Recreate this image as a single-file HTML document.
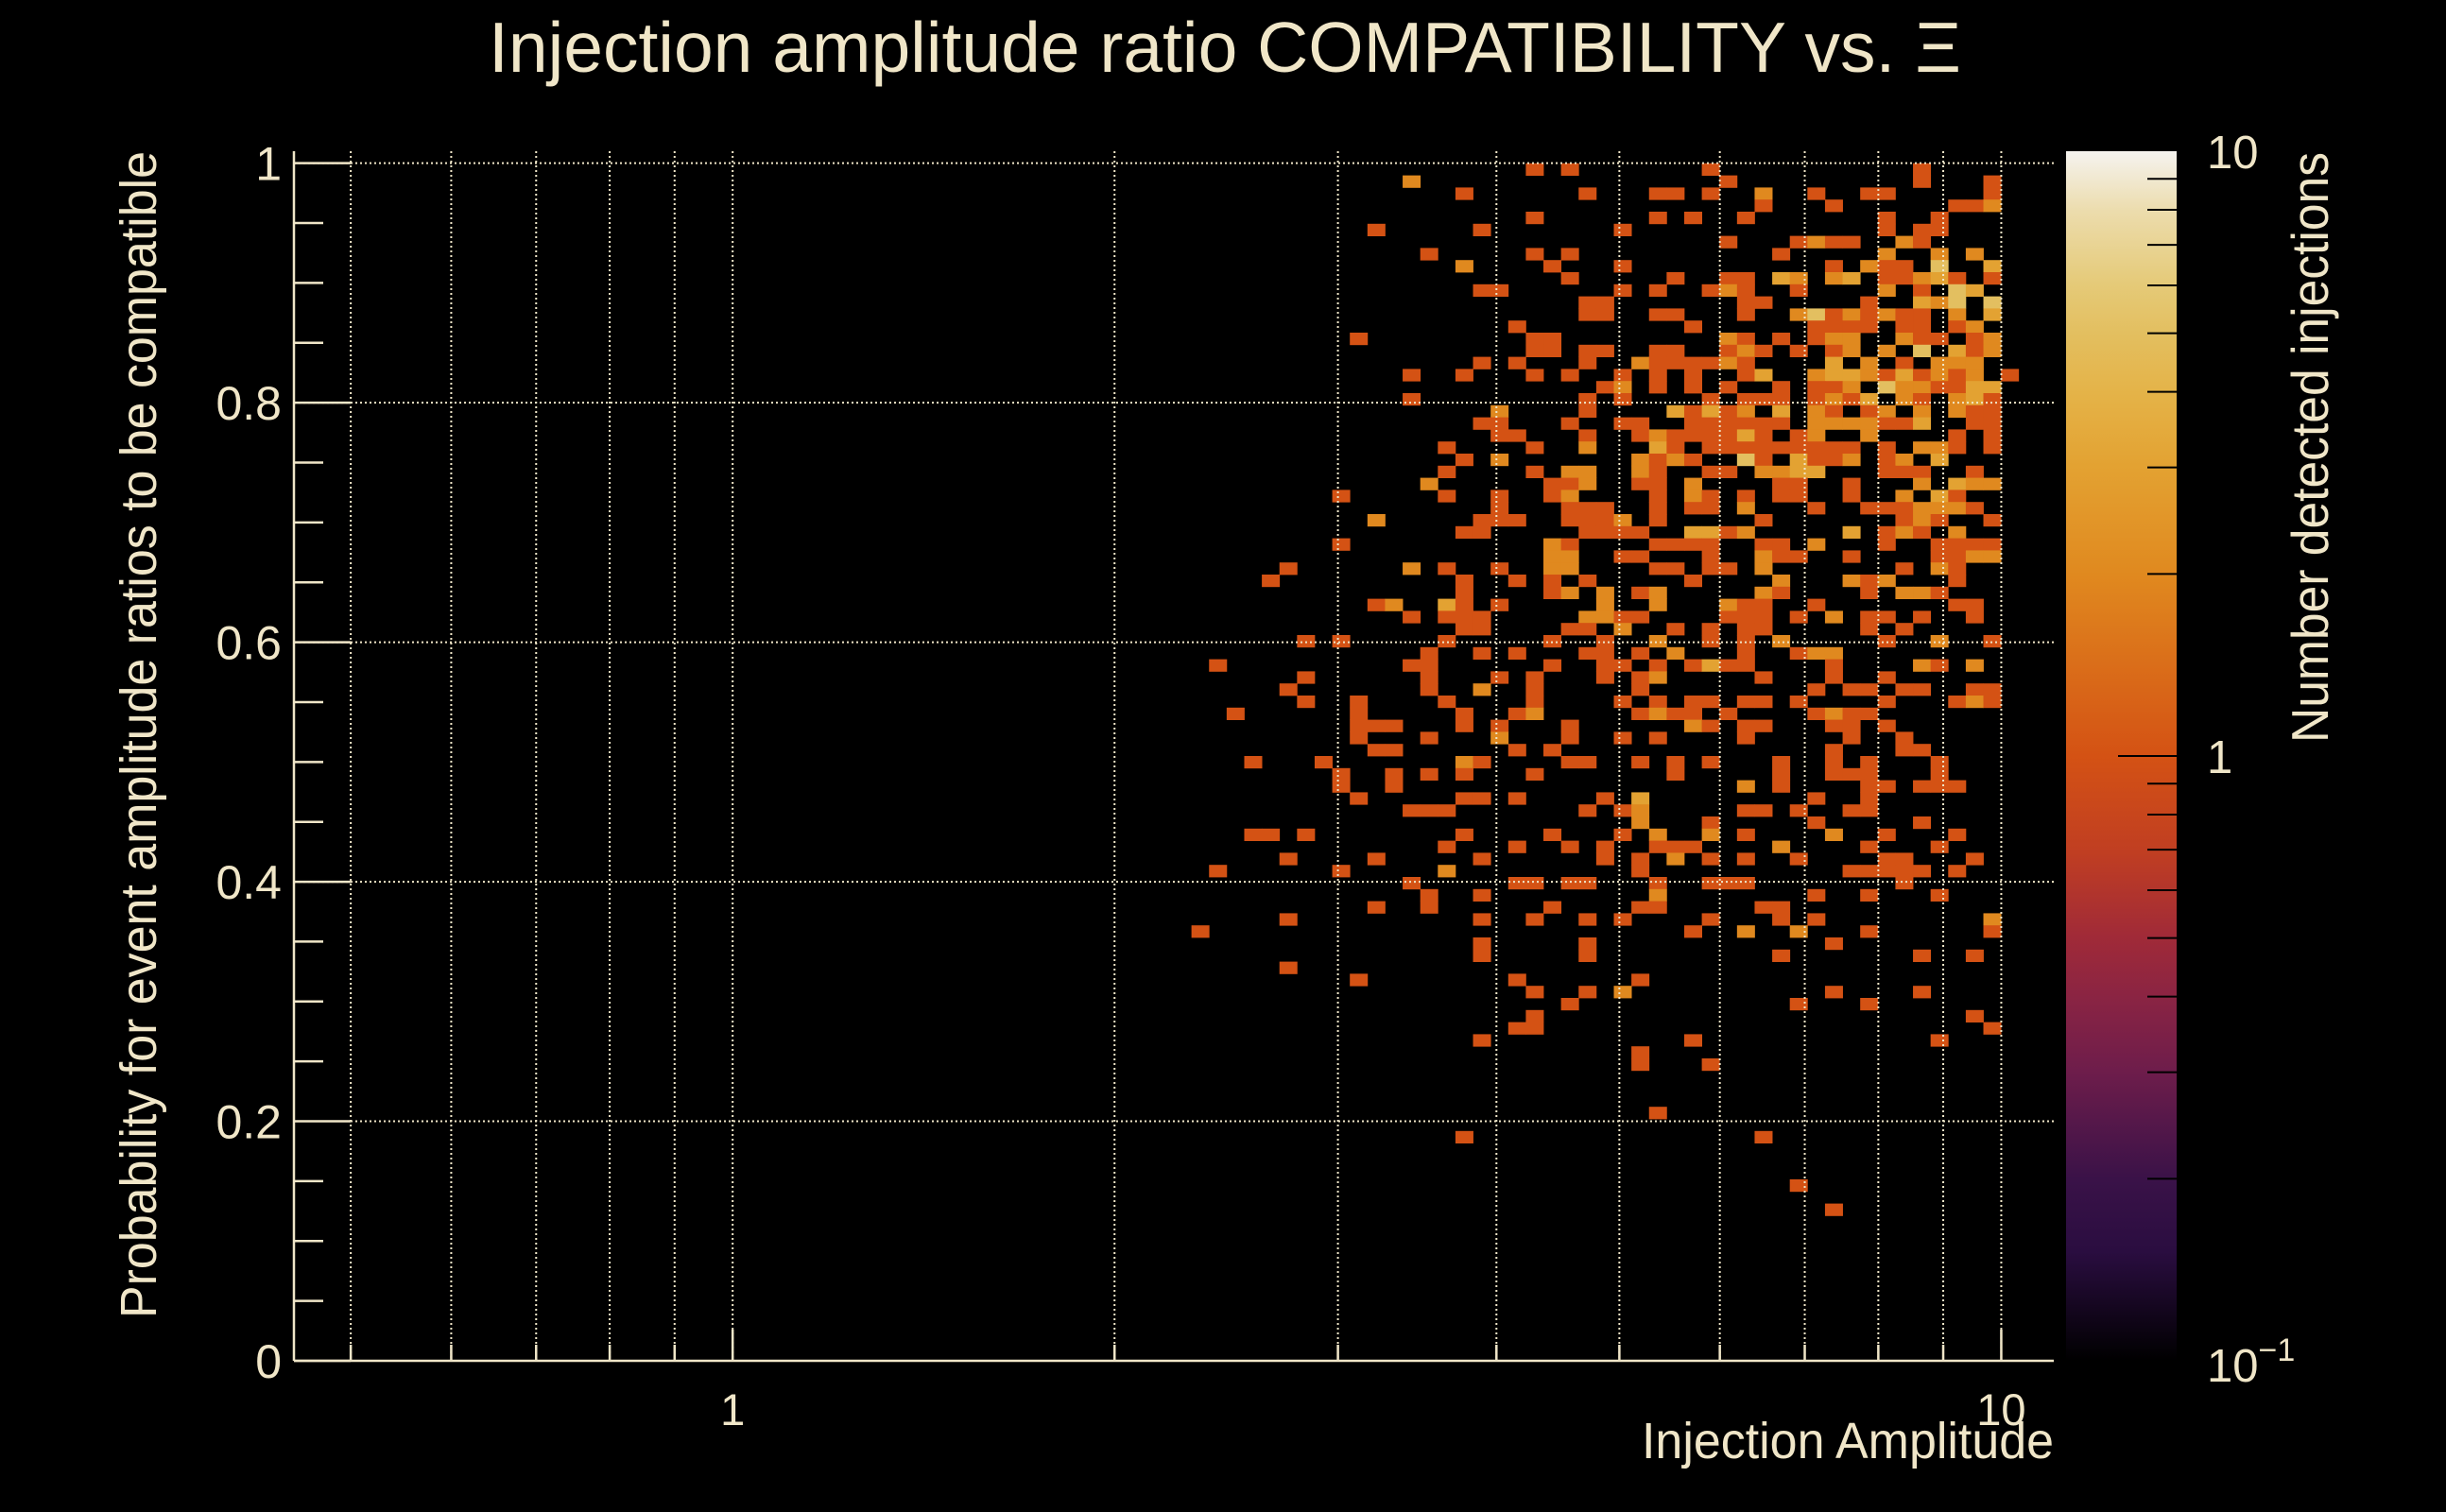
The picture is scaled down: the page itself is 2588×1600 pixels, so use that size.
<!DOCTYPE html>
<html>
<head>
<meta charset="utf-8">
<style>
  html, body { margin:0; padding:0; background:#000; }
  svg { display:block; }
  text { font-family: "Liberation Sans", "DejaVu Sans", sans-serif; fill:#f0e6c8; }
</style>
</head>
<body>
<svg id="chart" width="2588" height="1600" viewBox="0 0 2588 1600" xmlns="http://www.w3.org/2000/svg">
  <rect x="0" y="0" width="2588" height="1600" fill="#000"/>
  <defs>
    <linearGradient id="cbar-grad" x1="0" y1="1" x2="0" y2="0">
      <stop offset="0" stop-color="#000000"/>
      <stop offset="0.09" stop-color="#2a0d40"/>
      <stop offset="0.15" stop-color="#3a1248"/>
      <stop offset="0.24" stop-color="#6e1d4b"/>
      <stop offset="0.30" stop-color="#8a2443"/>
      <stop offset="0.35" stop-color="#a02a38"/>
      <stop offset="0.42" stop-color="#c03e22"/>
      <stop offset="0.50" stop-color="#d45214"/>
      <stop offset="0.65" stop-color="#e0891f"/>
      <stop offset="0.74" stop-color="#e3a232"/>
      <stop offset="0.80" stop-color="#e4b348"/>
      <stop offset="0.85" stop-color="#e3bf60"/>
      <stop offset="0.89" stop-color="#e5ca78"/>
      <stop offset="0.95" stop-color="#ecdcac"/>
      <stop offset="1" stop-color="#f5f3ef"/>
    </linearGradient>
  </defs>
  <g id="cells"></g>
  <g id="grid"></g>
  <g id="axes"></g>
  <g id="colorbar"></g>

  <text x="517" y="76" font-size="75" textLength="1558" lengthAdjust="spacingAndGlyphs">Injection amplitude ratio COMPATIBILITY vs.  Ξ</text>
  <text x="2173" y="1543" font-size="54" text-anchor="end" textLength="436" lengthAdjust="spacingAndGlyphs">Injection Amplitude</text>
  <text transform="translate(165,1395) rotate(-90)" x="0" y="0" font-size="54" textLength="1235" lengthAdjust="spacingAndGlyphs">Probability for event amplitude ratios to be compatible</text>
  <text transform="translate(2463,786) rotate(-90)" x="0" y="0" font-size="55" textLength="625" lengthAdjust="spacingAndGlyphs">Number detected injections</text>
</svg>
<script>
// ---- data ----
const xMin = 0.451, xMax = 11.0, nXBins = 100;
const yMin = 0, yMax = 1.01, nYBins = 100;
const firstXBin = 51;   // x-bin index of column 0 in the rows below
const topYBin = 98;     // y-bin index of row 0 (rows go downward)
// each row: tokens "col" (count 1) or "col:count"
const cellRows = [
"19 21 29 41",
"12:2 30 41 45",
"15 22 26 27 29 32:2 35 38 39 45",
"32 36 43 44 45:2",
"19 26 28 31 39 42",
"10 16 24 39 41 42",
"30 34 35:2 36 37 40:2 41",
"13 19 21 33 39:2 42:2 44:2",
"15:2 20 24 36 38:2 39 40 42:5 45:3",
"21 27 30 31 33:3 34:2 36:2 37:3 39 40 41:2 42:3 43 45",
"16 17 24 26 29 30:2 31 34 39:2 41 43:5 44:3",
"22 23 31 32 38 41:3 42:2 43:5 45:5",
"22 23 26 27 31 34:2 35:5 36 37:2 38 39:2 40 41 43:2 45:3",
"18 28 35 36 37 38 40 41 43 44:2",
"9 19 20 30:2 31 33 35 36:2 37:2 40:2 41 42 44 45:2",
"19 20 22 23 26 27 30 31:2 32 34 36 37:2 39:2 41:5 43:3 44 45:2",
"16 18 22 25:2 26 27 28 29 30:2 31 36:3 38:2 40 42:2 43:2 44:2",
"12 15 19 21 24 26 28 31 32:3 35:2 36:3 37:3 38:2 39 40:3 41 42:2 43 44:2 46",
"23 24:2 26 28 30 33 35 36 37:2 39:5 40:2 41:2 42 43 44:3 45:3",
"12 22 24 29 31 32 33 35 36:2 37 38:3 40:2 41 43:2 44:3 45",
"17:2 22 27:3 28 29:3 30 31:2 33:3 35:2 36 38 39:2 41:2 43:2 44 45",
"16 17 21 24 25 28 29 30 31 32 33 35:2 36:2 37:2 38:2 39 40 41:3 44 45",
"17 18 22 25 26:2 27 28 29 30 31:3 32 34 35:2 38:2 43 45",
"14 19 22:2 26:3 27 29 30 31 32 33 34 35 36 37 39 41:2 42:2 43 45",
"15 17:2 25:2 26 27:2 28 31:5 32 34:3 35 36 37:2 39 40:2 42:3",
"14 19 21:2 22:2 25:2 26 29 30 32:2 33:2 34:3 35:3 39 40 41 44",
"13:2 20 21 22:2 25 26 28:2 33 34 37 41:2 43:3 44:2 45:2",
"8 14 17 20 21:2 26 28:2 29 31 33 34 37 40:2 42:3 43",
"17 21 22 23 26 28 29 31:2 35 38 39 40 41:2 42:2 43:2 44",
"10:2 16 17 18 21 22 23 24:2 26 32 40 41:2 42 45",
"15 16 22 23 24 25 28:3 29:3 30 31:2 37:3 39 40:2 41 43:2",
"8 20:2 21 26 27 28 29 32 33 35:2 39 42 43 44 45",
"20:2 21:2 24 25 29 32:2 33 34 37 42 43 44:2 45:2",
"5 12:2 14 17 20:2 21:2 26 27 29 30 32:2 40 42:2 43",
"4 15 18 20 22 28 33:2 37:2 38 39:2 43",
"15 20 21:2 23:2 25 26:2 32:2 33 38 40:2 41:2 42",
"10 11:2 14:3 15 17 23:2 26:2 30:2 31 32 35 43 44",
"12 14 15 16 22:2 23:2 24 25 30 31 32 34 36:2 38 39 41 44",
"15 16 21 22 24:2 27 29 31 32 38 40",
"6 8 14 20 23 26:2 29 31 33:2 39 42:2 45",
"13 16 18 22 23 25 27:2 31 34 35:2 36:2",
"1 12 13 20 23 24 26 28 29:3 30 31 36 41:2 42 44:2",
"6 13 17 19 23 25 26:2 32 36 39",
"5 13 16:2 19 25 35 37 38 40 41 44 45",
"6 9 14 19 24 26 28 29 31 32 34 39 43 44:2 45",
"2 9 15 18 19:2 25 26:2 27 28 30 35 36:2 37 38",
"9 10 11 15 17 21 28:2 29 31 32 36 37 39",
"9 13 17:2 21 24 26 31 37 40",
"10 11 18 20 36 40 41",
"3 7 15:2 16 21 22 25 27 29 33 36 38 42",
"8 11 13 15 19 27 33 36 37 38 42",
"8 11 31:2 33 38 39 41 42 43",
"9 15 16 18 23 25:3 35 38",
"12 13 14 22 24 25:2 31 32 34 37 38",
"25:2 29 35 41",
"3 4 6 15 20 24 26:2 29:2 31 36:2 39 43",
"14 18 21 23 26 27 28 33:2 38 42",
"5 10 16 23 25 27:2 29 31 34 39 40 44",
"1 8 14:2 25 37 38 39 40 41 43",
"12 18 19 21 22 26 29 30 31 40",
"13 16 26:2 35 38 42",
"10 13 20 25 26 32 33",
"5 16 19 22 24 29 33 35 45:2",
"0 28 31:2 34:2 38 45",
"16 22 36",
"16 22 33 41 44",
"5",
"9 18 25",
"19 22 24:2 36 41",
"21 34 38",
"19 44",
"18 19 45",
"16 28 42",
"25",
"25 29",
"",
"",
"",
"26",
"",
"15 32",
"",
"",
"",
"34",
"",
"36"
];
const yTickValues = [0, 0.2, 0.4, 0.6, 0.8, 1];
const yTickLabels = ["0", "0.2", "0.4", "0.6", "0.8", "1"];
const xMajorTicks = [1, 10];
const xMajorLabels = ["1", "10"];
const xMinorTicks = [0.5, 0.6, 0.7, 0.8, 0.9, 2, 3, 4, 5, 6, 7, 8, 9];
const zMin = 0.1, zMax = 10;
const zMinorTicks = [0.2,0.3,0.4,0.5,0.6,0.7,0.8,0.9,2,3,4,5,6,7,8,9];

// ---- geometry ----
const NS = "http://www.w3.org/2000/svg";
const plotL = 311, plotR = 2173, plotT = 160, plotB = 1440;
const cbL = 2186, cbR = 2303;
const lxMin = Math.log10(xMin), lxMax = Math.log10(xMax);
function xs(v){ return plotL + (Math.log10(v) - lxMin) / (lxMax - lxMin) * (plotR - plotL); }
function ys(v){ return plotB - (v - yMin) / (yMax - yMin) * (plotB - plotT); }
function zs(v){ return plotB - (Math.log10(v) - Math.log10(zMin)) / (Math.log10(zMax) - Math.log10(zMin)) * (plotB - plotT); }
function xEdge(b){ return Math.pow(10, lxMin + b * (lxMax - lxMin) / nXBins); }
function yEdge(j){ return yMin + j * (yMax - yMin) / nYBins; }

const stops = [[0,[0,0,0]],[0.09,[42,13,64]],[0.15,[58,18,72]],[0.24,[110,29,75]],[0.30,[138,36,67]],[0.35,[160,42,56]],[0.42,[192,62,34]],[0.50,[212,82,20]],[0.65,[224,137,31]],[0.74,[227,162,50]],[0.80,[228,179,72]],[0.85,[227,191,96]],[0.89,[229,202,120]],[0.95,[236,220,172]],[1,[245,243,239]]];
function color(v){
  let t = (Math.log10(v) - Math.log10(zMin)) / (Math.log10(zMax) - Math.log10(zMin));
  t = Math.max(0, Math.min(1, t));
  for (let i = 1; i < stops.length; i++) {
    if (t <= stops[i][0]) {
      const a = stops[i-1], b = stops[i];
      const f = (t - a[0]) / (b[0] - a[0]);
      const c = a[1].map((x, k) => Math.round(x + (b[1][k] - x) * f));
      return "rgb(" + c.join(",") + ")";
    }
  }
  return "rgb(245,243,239)";
}
function mk(tag, attrs, parent){
  const el = document.createElementNS(NS, tag);
  for (const k in attrs) el.setAttribute(k, attrs[k]);
  parent.appendChild(el);
  return el;
}

// ---- cells ----
const gCells = document.getElementById("cells");
cellRows.forEach((row, r) => {
  const j = topYBin - r;
  row.split(" ").filter(s => s.length).forEach(tok => {
    const parts = tok.split(":");
    const b = firstXBin + parseInt(parts[0], 10);
    const count = parts.length > 1 ? parseFloat(parts[1]) : 1;
    const x0 = xs(xEdge(b)), x1 = xs(xEdge(b + 1));
    const y0 = ys(yEdge(j + 1)), y1 = ys(yEdge(j));
    const el = mk("rect", {x: x0.toFixed(2), y: y0.toFixed(2), width: (x1 - x0 + 0.4).toFixed(2), height: (y1 - y0 + 0.4).toFixed(2), fill: color(count)}, gCells);
    
    
  });
});

// ---- grid ----
const gGrid = document.getElementById("grid");
const gridStyle = {stroke: "#f0e6c8", "stroke-width": 2, "stroke-dasharray": "2,3", fill: "none"};
xMinorTicks.concat(xMajorTicks).forEach(v => {
  const x = xs(v);
  const el = mk("line", Object.assign({x1: x, x2: x, y1: plotT, y2: plotB}, gridStyle), gGrid);
  
  
});
yTickValues.forEach(v => {
  const y = ys(v);
  const el = mk("line", Object.assign({x1: plotL, x2: plotR, y1: y, y2: y}, gridStyle), gGrid);
  
  
});

// ---- axes ----
const gAx = document.getElementById("axes");
const axStyle = {stroke: "#f0e6c8", "stroke-width": 2.5};
let el = mk("line", Object.assign({x1: plotL, x2: plotL, y1: plotT, y2: plotB}, axStyle), gAx);


el = mk("line", Object.assign({x1: plotL, x2: plotR, y1: plotB, y2: plotB}, axStyle), gAx);


for (let v = 0; v <= 1.0001; v += 0.05) {
  const y = ys(v);
  const major = Math.abs(v * 5 - Math.round(v * 5)) < 1e-6;
  el = mk("line", Object.assign({x1: plotL, x2: plotL + (major ? 60 : 31), y1: y, y2: y}, axStyle), gAx);
  
  
}
yTickValues.forEach((v, i) => {
  const t = mk("text", {x: 298, y: ys(v) + 18, "font-size": 50, "text-anchor": "end"}, gAx);
  t.textContent = yTickLabels[i];
  
  
});
xMinorTicks.forEach(v => {
  el = mk("line", Object.assign({x1: xs(v), x2: xs(v), y1: plotB, y2: plotB - 17}, axStyle), gAx);
  
  
});
xMajorTicks.forEach((v, i) => {
  el = mk("line", Object.assign({x1: xs(v), x2: xs(v), y1: plotB, y2: plotB - 33}, axStyle), gAx);
  
  
  const t = mk("text", {x: xs(v), y: 1508, "font-size": 47, "text-anchor": "middle"}, gAx);
  t.textContent = xMajorLabels[i];
  
  
});

// ---- colorbar ----
const gCb = document.getElementById("colorbar");
el = mk("rect", {x: cbL, y: plotT, width: cbR - cbL, height: plotB - plotT, fill: "url(#cbar-grad)"}, gCb);


zMinorTicks.forEach(v => {
  el = mk("line", {x1: cbR - 31, x2: cbR, y1: zs(v), y2: zs(v), stroke: "#000", "stroke-width": 2}, gCb);
  
  
});
el = mk("line", {x1: cbR - 62, x2: cbR, y1: zs(1), y2: zs(1), stroke: "#000", "stroke-width": 2}, gCb);


let t = mk("text", {x: 2335, y: 178, "font-size": 49}, gCb);
t.textContent = "10";


t = mk("text", {x: 2335, y: 818, "font-size": 49}, gCb);
t.textContent = "1";


t = mk("text", {x: 2335, y: 1462, "font-size": 49}, gCb);


t.appendChild(document.createTextNode("10"));
const sup = document.createElementNS(NS, "tspan");
sup.setAttribute("dy", "-22");
sup.setAttribute("font-size", "34");
sup.textContent = "\u22121";
t.appendChild(sup);
</script>
</body>
</html>
